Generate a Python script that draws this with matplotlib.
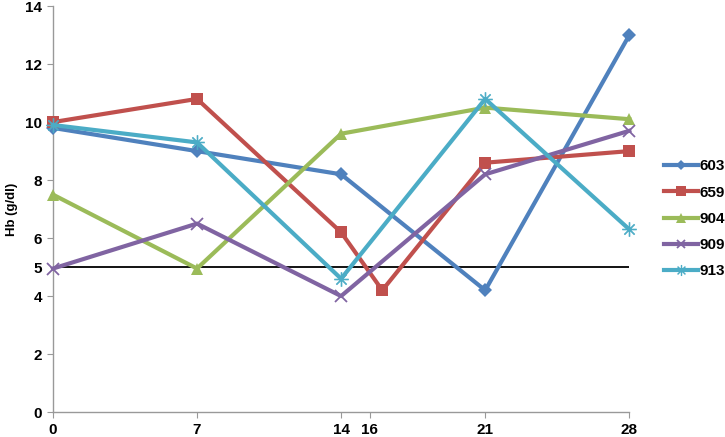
import matplotlib
matplotlib.use("Agg")
import matplotlib.pyplot as plt

plt.rcParams["font.family"] = ["Liberation Sans", "DejaVu Sans"]

days = [0, 7, 14, 21, 28]
days_659 = [0, 7, 14, 16, 21, 28]
hb_603 = [9.8, 9.0, 8.2, 4.2, 13.0]
hb_659 = [10.0, 10.8, 6.2, 4.2, 8.6, 9.0]
hb_904 = [7.5, 4.95, 9.6, 10.5, 10.1]
hb_909 = [4.95, 6.5, 4.0, 8.2, 9.7]
hb_913 = [9.9, 9.3, 4.6, 10.8, 6.3]
threshold = 5

x_tick_pos = [0, 7, 14, 15.4, 21, 28]
x_tick_labels = ["0", "7", "14", "16", "21", "28"]
y_ticks = [0, 2, 4, 6, 8, 10, 12, 14]

fig = plt.figure(figsize=(7.25, 4.37), dpi=100)
ax = fig.add_axes([0.073, 0.057, 0.795, 0.929])

ax.plot([0, 28], [threshold, threshold], color="black", lw=1.3, zorder=1)

series = [
    ("603", days, hb_603, "#4F81BD", "D", 7),
    ("659", days_659, hb_659, "#C0504D", "s", 9),
    ("904", days, hb_904, "#9BBB59", "^", 9),
    ("909", days, hb_909, "#8064A2", "x", 8),
    ("913", days, hb_913, "#4BACC6", "$\u2733$", 10),
]
for name, xs, ys, c, m, ms in series:
    kw = dict(markeredgewidth=1.3) if m == "x" else dict(markeredgewidth=0)
    if m.startswith("$"):
        kw = dict(markeredgewidth=0.5)
    ax.plot(xs, ys, color=c, lw=3, marker=m, ms=ms, label=name,
            clip_on=False, zorder=3, **kw)

ax.set_xlim(0, 28)
ax.set_ylim(0, 14)
ax.set_xticks(x_tick_pos)
ax.set_xticklabels(x_tick_labels, fontweight="bold", fontsize=11)
ax.set_yticks(y_ticks)
ax.set_yticklabels([str(v) for v in y_ticks], fontweight="bold", fontsize=11)
ax.set_yticks([threshold], minor=True)
ax.set_yticklabels([str(threshold)], minor=True, fontweight="bold", fontsize=11)
ax.tick_params(axis="y", which="minor", length=0, pad=8)
ax.tick_params(axis="both", which="major", length=4, color="#999999", pad=4)

for s in ["top", "right"]:
    ax.spines[s].set_visible(False)
for s in ["left", "bottom"]:
    ax.spines[s].set_color("#999999")
    ax.spines[s].set_linewidth(1)

ax.set_ylabel("Hb (g/dl)", fontweight="bold", fontsize=9.5, labelpad=5)

leg = fig.legend(loc="center left", bbox_to_anchor=(0.912, 0.499), frameon=False,
                 prop={"weight": "bold", "size": 11}, handlelength=2.2,
                 handletextpad=0.1, labelspacing=0.8, markerscale=0.75,
                 borderpad=0.2, borderaxespad=0)

fig.savefig("out.png", dpi=100)
